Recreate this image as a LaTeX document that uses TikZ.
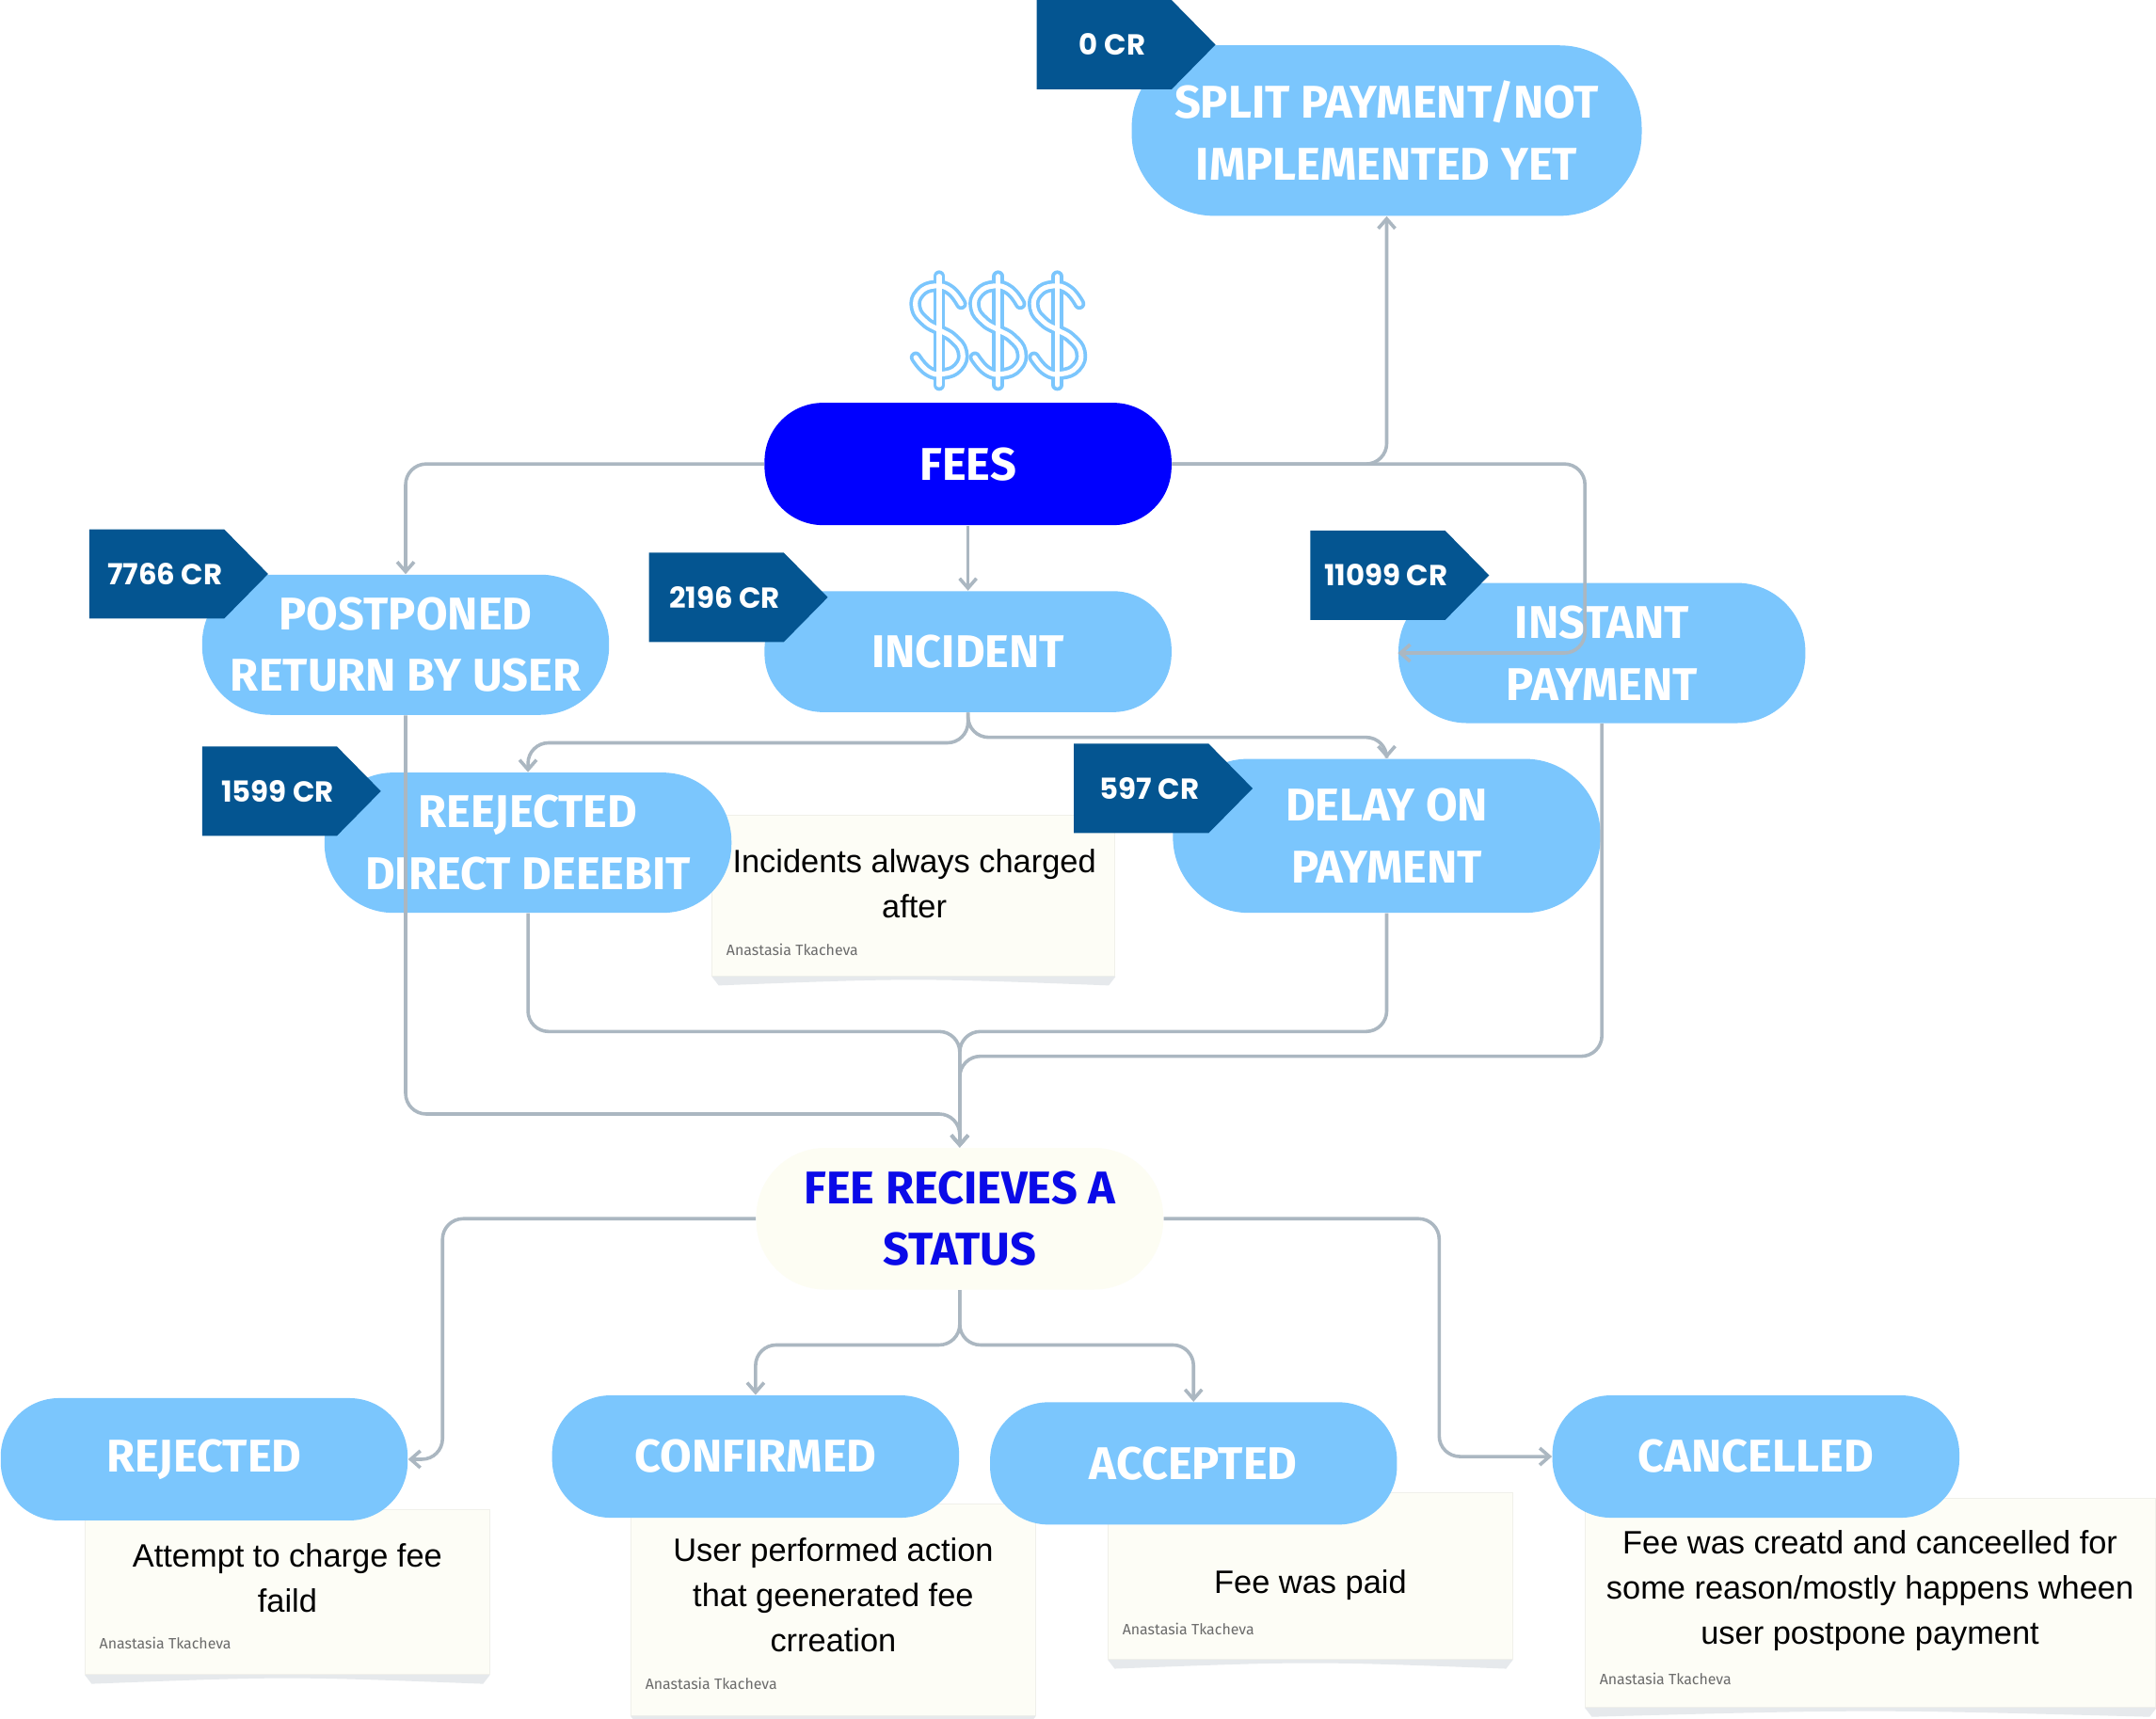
\documentclass[tikz,border=0pt]{standalone}
\usepackage{fontspec}
\setmainfont{Liberation Sans}
\newfontfamily\pillfont{Fira Sans}
\newfontfamily\tagfont{Poppins}
\newfontfamily\authorfont{Fira Sans}
\usetikzlibrary{arrows.meta}
\usetikzlibrary{calc}
\definecolor{pill-blue}{HTML}{7BC6FD}
\definecolor{fees-blue}{HTML}{0000FF}
\definecolor{status-blue}{HTML}{0A0AE8}
\definecolor{tag-blue}{HTML}{045591}
\definecolor{status-cream}{HTML}{FDFDF3}
\definecolor{note-cream}{HTML}{FDFDF6}
\definecolor{note-edge}{HTML}{F0F0EA}
\definecolor{note-shadow}{HTML}{E6E9EC}
\definecolor{link-grey}{HTML}{ABB7C1}
\definecolor{author-grey}{HTML}{6B6B6B}

\tikzset{
    pill/.style={minimum height=1.78cm, minimum width=5.92cm, fill=pill-blue,
        rounded corners=0.85cm, text=white, align=center, inner sep=0pt,
        font=\pillfont\bfseries\fontsize{19}{25.5}\selectfont},
    note/.style={fill=note-cream, draw=note-edge, line width=0.4pt, inner sep=0pt},
    note text/.style={font=\fontsize{13.4}{18.7}\selectfont, align=center, text=black},
    author/.style={font=\authorfont\fontsize{6.2}{7}\selectfont, text=author-grey,
        anchor=west, inner sep=0pt},
    tag text/.style={font=\tagfont\bfseries\fontsize{12}{14}\selectfont, text=white},
    link/.style={draw=link-grey, line width=1.4pt, rounded corners=0.3cm,
        -{Straight Barb[length=4pt,width=7pt]}},
    dollar out/.style={draw=pill-blue, line width=4.9pt, line cap=round, line join=round},
    dollar in/.style={draw=white, line width=2pt, line cap=round, line join=round},
}

\begin{document}
\begin{tikzpicture}[x=0.02cm, y=-0.02cm]

    \useasboundingbox[fill=white] (0,0) rectangle (1568,1250);

    % notes, under the status boxes
    \draw (664.5,651.5) node[note, minimum width=5.86cm, minimum height=2.34cm] (incident note) {};
    \draw (209,1158) node[note, minimum width=5.88cm, minimum height=2.4cm] (rejected note) {};
    \draw (606,1171) node[note, minimum width=5.88cm, minimum height=3.08cm] (confirmed note) {};
    \draw (953,1146.5) node[note, minimum width=5.88cm, minimum height=2.42cm] (accepted note) {};
    \draw (1360.5,1166) node[note, minimum width=8.3cm, minimum height=3.04cm] (cancelled note) {};

    \foreach \n in {incident note, rejected note, confirmed note, accepted note, cancelled note}
        \fill[note-shadow] (\n.south west) -- (\n.south east)
            -- ([xshift=-0.1cm, yshift=-0.13cm]\n.south east)
            .. controls ([yshift=-0.02cm]\n.south) ..
            ([xshift=0.1cm, yshift=-0.13cm]\n.south west) -- cycle;

    \draw (665,643) node[note text] (incident text) {Incidents always charged\\after};
    \draw (209,1148) node[note text] (rejected text) {Attempt to charge fee\\faild};
    \draw (606,1160) node[note text] (confirmed text) {User performed action\\that geenerated fee\\crreation};
    \draw (953,1153) node[note text] (accepted text) {Fee was paid};
    \draw (1360,1157) node[note text] (cancelled text) {Fee was creatd and canceelled for\\some reason/mostly happens wheen\\user postpone payment};

    \draw (528,691) node[author] (incident author) {Anastasia Tkacheva};
    \draw (72,1195) node[author] (rejected author) {Anastasia Tkacheva};
    \draw (469,1225) node[author] (confirmed author) {Anastasia Tkacheva};
    \draw (816,1185) node[author] (accepted author) {Anastasia Tkacheva};
    \draw (1163,1221) node[author] (cancelled author) {Anastasia Tkacheva};

    % the dollars
    \foreach \cx in {683,726,769} {
        \draw[dollar out] plot[smooth, tension=0.8] coordinates {(\cx+16,221) (\cx+8,211) (\cx-3,208) (\cx-14,213) (\cx-17,224) (\cx-10,234) (\cx,240) (\cx+10,246) (\cx+17,256) (\cx+14,267) (\cx+3,272) (\cx-8,270) (\cx-17,260)};
        \draw[dollar out] (\cx,201) -- (\cx,280);
        \draw[dollar in] plot[smooth, tension=0.8] coordinates {(\cx+16,221) (\cx+8,211) (\cx-3,208) (\cx-14,213) (\cx-17,224) (\cx-10,234) (\cx,240) (\cx+10,246) (\cx+17,256) (\cx+14,267) (\cx+3,272) (\cx-8,270) (\cx-17,260)};
        \draw[dollar in] (\cx,201) -- (\cx,280);
    }

    % fee types
    \draw (1008.5,95) node[pill, minimum width=7.42cm, minimum height=2.48cm, rounded corners=1.2cm]
        (Split Payment) {SPLIT PAYMENT/NOT\\IMPLEMENTED YET};

    \draw (704,337.5) node[pill, fill=fees-blue] (Fees) {FEES};

    \draw (295,469) node[pill, minimum height=2.04cm, rounded corners=1cm]
        (Postponed) {POSTPONED\\RETURN BY USER};

    \draw (704,474) node[pill, minimum height=1.76cm] (Incident) {INCIDENT};

    \draw (1165,475) node[pill, minimum height=2.04cm, rounded corners=1cm]
        (Instant Payment) {INSTANT\\PAYMENT};

    \draw (384,613) node[pill, minimum height=2.04cm, rounded corners=1cm]
        (Reejected) {REEJECTED\\DIRECT DEEEBIT};

    \draw (1008.5,608) node[pill, minimum width=6.22cm, minimum height=2.24cm, rounded corners=1.1cm]
        (Delay) {DELAY ON\\PAYMENT};

    % status
    \draw (698,886.5) node[pill, fill=status-cream, text=status-blue, minimum height=2.06cm, rounded corners=1cm]
        (Status) {FEE RECIEVES A\\STATUS};

    \draw (148.5,1061.5) node[pill] (Rejected) {REJECTED};
    \draw (549.5,1059.5) node[pill] (Confirmed) {CONFIRMED};
    \draw (868,1064.5) node[pill] (Accepted) {ACCEPTED};
    \draw (1277,1059.5) node[pill] (Cancelled) {CANCELLED};

    % credit tags
    \foreach \tx/\ty/\tlabel/\tname in {754/0/0 CR/split tag, 65/385/7766 CR/postponed tag,
            472/402/2196 CR/incident tag, 953/386/11099 CR/instant tag,
            147/543/1599 CR/reejected tag, 781/541/597 CR/delay tag} {
        \fill[tag-blue] (\tx,\ty) -- ++(98,0) -- ++(32,32.5) -- ++(-32,32.5) -- ++(-98,0) -- cycle;
        \draw (\tx+55,\ty+32.5) node[tag text] (\tname) {\tlabel};
    }

    % links
    \draw[link] (Fees.west) -| (Postponed.north);
    \draw[link] (Fees.south) -- (Incident.north);
    \draw[link] (Fees.east) -| (Split Payment.south);
    \draw[link] (Fees.east) -| ($(Instant Payment.west)+(136,0)$) -- (Instant Payment.west);

    \draw[link] (Incident.south) -- ++(0,22) -| (Reejected.north);
    \draw[link] (Incident.south) -- ++(0,18) -| (Delay.north);

    \draw[link] (Reejected.south) -- ++(0,86) -| (Status.north);
    \draw[link] (Delay.south) -- ++(0,86) -| (Status.north);
    \draw[link] (Instant Payment.south) -- ++(0,242) -| (Status.north);
    \draw[link] (Postponed.south) -- ++(0,290) -| (Status.north);

    \draw[link] (Status.west) -| ($(Rejected.east)+(25,0)$) -- (Rejected.east);
    \draw[link] (Status.south) -- ++(0,40) -| (Confirmed.north);
    \draw[link] (Status.south) -- ++(0,40) -| (Accepted.north);
    \draw[link] (Status.east) -| ($(Cancelled.west)+(-82,0)$) -- (Cancelled.west);

\end{tikzpicture}
\end{document}
